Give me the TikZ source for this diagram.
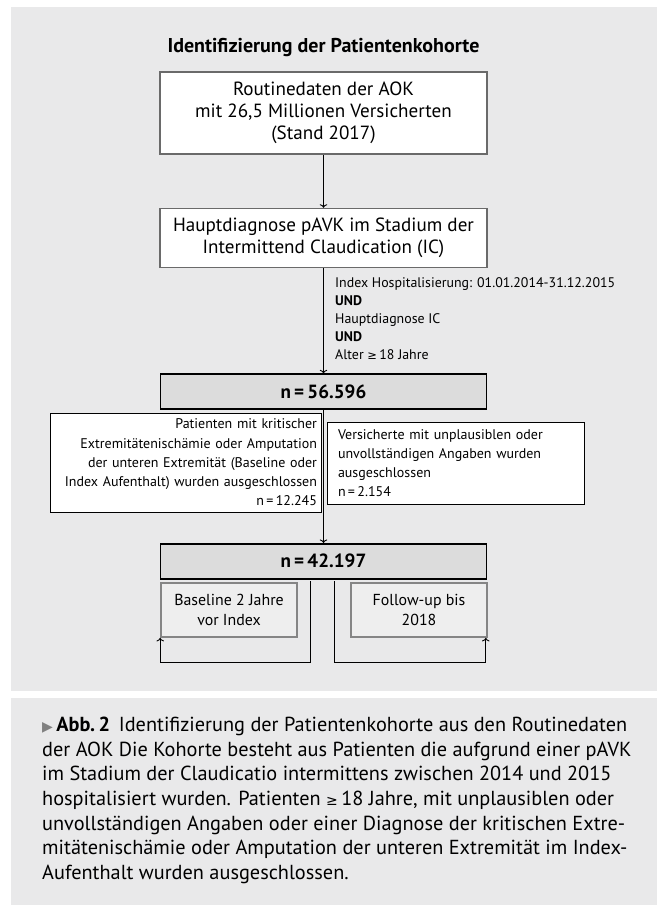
\documentclass[tikz,border=0pt]{standalone}
\usepackage{fontspec}
\setmainfont{PT Sans}
\newfontfamily\condfont{PT Sans}
\newfontfamily\symbfont{DejaVu Sans}
\usetikzlibrary{arrows.meta, positioning}
\definecolor{panelgray}{HTML}{E9E9EA}
\definecolor{ngray}{HTML}{DCDCDC}
\definecolor{subgray}{HTML}{EEEEEE}
\definecolor{framegray}{HTML}{6A6A6A}
\definecolor{subframe}{HTML}{858585}

\begin{document}
\begin{tikzpicture}[
    x=1pt, y=-1pt,
    stepbox/.style={rectangle, draw=framegray, line width=1.6pt, fill=white, minimum width=327pt, inner sep=0pt, align=center, font=\condfont\fontsize{19.1}{22}\selectfont},
    countbox/.style={rectangle, draw=black, line width=1.6pt, fill=ngray, minimum width=326pt, minimum height=35pt, inner sep=0pt, font=\condfont\bfseries\fontsize{19.1}{22}\selectfont},
    exclbox/.style={rectangle, draw=black, line width=1pt, fill=white, inner sep=0pt, font=\condfont\fontsize{14}{19.2}\selectfont},
    periodbox/.style={rectangle, draw=subframe, line width=1.6pt, fill=subgray, minimum width=136pt, minimum height=54pt, inner sep=0pt, align=center, font=\condfont\fontsize{15.9}{20}\selectfont},
    arr/.style={->, line width=0.9pt}
]

\useasboundingbox[fill=white] (0,0) rectangle (657,906);

% Panels
\fill[panelgray] (11,7) rectangle (657,691);
\fill[panelgray] (11,698) rectangle (657,905);

% Title
\node[font=\condfont\bfseries\fontsize{20}{22}\selectfont] (title) at (323.5,48) {Identifizierung der Patientenkohorte};

% Main steps
\node[stepbox, minimum height=82pt] (src) at (323.5,113) {Routinedaten der AOK\\mit 26,5 Millionen Versicherten\\(Stand 2017)};
\node[stepbox, minimum height=59pt, below=53pt of src] (diag) {Hauptdiagnose pAVK im Stadium der\\Intermittend Claudication (IC)};
\node[countbox, below=105pt of diag] (n1) {n\,=\,56.596};
\node[countbox, below=133pt of n1] (n2) {n\,=\,42.197};

% Criteria
\node[anchor=north west, inner sep=0pt, align=left, font=\condfont\fontsize{13.9}{18.2}\selectfont] (crit) at (335,277)
  {Index Hospitalisierung: 01.01.2014-31.12.2015\\\textbf{UND}\\Hauptdiagnose IC\\\textbf{UND}\\Alter {\symbfont\fontsize{11.5}{18}\selectfont ≥}\,18 Jahre};

% Exclusions
\node[exclbox, minimum width=271pt, minimum height=99pt, text width=263pt, align=right] (ex1) at (185.5,462.5)
  {Patienten mit kritischer\\Extremitätenischämie oder Amputation\\der unteren Extremität (Baseline oder\\Index Aufenthalt) wurden ausgeschlossen\\n\,=\,12.245};
\node[exclbox, minimum width=257pt, minimum height=82pt, text width=235pt, align=left] (ex2) at (455.5,463)
  {Versicherte mit unplausiblen oder\\unvollständigen Angaben wurden\\ausgeschlossen\\n\,=\,2.154};

% Periods
\node[periodbox] (base) at (229,610) {Baseline 2 Jahre\\vor Index};
\node[periodbox] (fup) at (419,610) {Follow-up bis\\2018};

% Arrows
\draw[arr] (src) -- (diag);
\draw[arr] (diag) -- (n1);
\draw[arr] (n1) -- (n2);

\coordinate (bl) at (310,581);
\coordinate (br) at (334,581);
\draw[arr] (bl) -- (310,662) -| (base.south west);
\draw[arr] (br) -- (334,662) -| ([xshift=-2pt]fup.south east);

% Caption
\node[anchor=north west, inner sep=0pt, align=left, font=\fontsize{20.3}{24.6}\selectfont] (cap) at (42,717)
  {{\color{gray}\symbfont\fontsize{14}{22}\selectfont ▶}\,\textbf{Abb.\,2}\, Identifizierung der Patientenkohorte aus den Routinedaten\\
   der AOK Die Kohorte besteht aus Patienten die aufgrund einer pAVK\\
   im Stadium der Claudicatio intermittens zwischen 2014 und 2015\\
   hospitalisiert wurden. Patienten {\symbfont\fontsize{14}{22}\selectfont ≥}\,18 Jahre, mit unplausiblen oder\\
   unvollständigen Angaben oder einer Diagnose der kritischen Extre-\\
   mitätenischämie oder Amputation der unteren Extremität im Index-\\
   Aufenthalt wurden ausgeschlossen.};

\end{tikzpicture}
\end{document}
